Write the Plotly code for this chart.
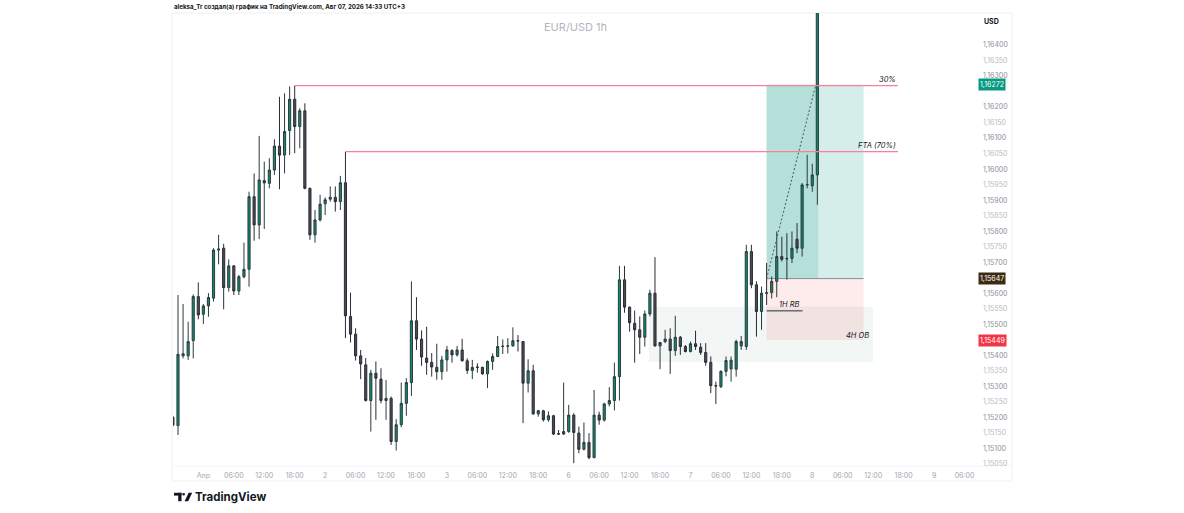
import plotly.graph_objects as go

# EUR/USD 1h, bar 0 = 31 Mar 19:00 (UTC+3); weekend bars skipped, so one bar per trading hour
opens = [1.15200, 1.15173, 1.15398, 1.15398, 1.15447, 1.15589, 1.15532, 1.15559, 1.15584, 1.15739,
         1.15745, 1.15618, 1.15688, 1.15607, 1.15653, 1.15677, 1.15911, 1.15820, 1.15955, 1.15954,
         1.15997, 1.16074, 1.16045, 1.16124, 1.16225, 1.16137, 1.16188, 1.15938, 1.15788, 1.15836,
         1.15888, 1.15903, 1.15909, 1.15895, 1.15956, 1.15525, 1.15468, 1.15398, 1.15369, 1.15254,
         1.15342, 1.15323, 1.15254, 1.15261, 1.15122, 1.15176, 1.15245, 1.15312, 1.15511, 1.15452,
         1.15391, 1.15377, 1.15361, 1.15347, 1.15385, 1.15415, 1.15401, 1.15417, 1.15382, 1.15351,
         1.15362, 1.15361, 1.15340, 1.15380, 1.15396, 1.15428, 1.15429, 1.15430, 1.15447, 1.15444,
         1.15310, 1.15350, 1.15211, 1.15221, 1.15192, 1.15205, 1.15147, 1.15146, 1.15154, 1.15207,
         1.15149, 1.15097, 1.15119, 1.15070, 1.15207, 1.15191, 1.15243, 1.15254, 1.15331, 1.15643,
         1.15555, 1.15503, 1.15482, 1.15458, 1.15533, 1.15600, 1.15430, 1.15444, 1.15452, 1.15415,
         1.15458, 1.15428, 1.15412, 1.15437, 1.15426, 1.15409, 1.15377, 1.15302, 1.15299, 1.15348,
         1.15356, 1.15355, 1.15430, 1.15428, 1.15734, 1.15627, 1.15541, 1.15601, 1.15602, 1.15638,
         1.15718, 1.15712, 1.15712, 1.15774, 1.15745, 1.15949, 1.15946, 1.15981]
highs = [1.15205, 1.15594, 1.15565, 1.15508, 1.15596, 1.15635, 1.15565, 1.15600, 1.15745, 1.15788,
         1.15759, 1.15709, 1.15690, 1.15659, 1.15763, 1.15927, 1.15986, 1.16107, 1.16024, 1.16035,
         1.16096, 1.16233, 1.16244, 1.16266, 1.16269, 1.16196, 1.16212, 1.15940, 1.15868, 1.15917,
         1.15909, 1.15944, 1.15944, 1.15978, 1.16056, 1.15602, 1.15487, 1.15417, 1.15391, 1.15353,
         1.15380, 1.15358, 1.15320, 1.15267, 1.15194, 1.15312, 1.15326, 1.15638, 1.15587, 1.15480,
         1.15492, 1.15407, 1.15437, 1.15398, 1.15430, 1.15419, 1.15430, 1.15453, 1.15390, 1.15385,
         1.15374, 1.15363, 1.15383, 1.15406, 1.15462, 1.15451, 1.15455, 1.15490, 1.15465, 1.15446,
         1.15387, 1.15369, 1.15224, 1.15224, 1.15219, 1.15208, 1.15159, 1.15312, 1.15240, 1.15213,
         1.15170, 1.15183, 1.15149, 1.15288, 1.15218, 1.15247, 1.15297, 1.15376, 1.15688, 1.15688,
         1.15557, 1.15544, 1.15525, 1.15544, 1.15611, 1.15716, 1.15441, 1.15482, 1.15487, 1.15527,
         1.15462, 1.15433, 1.15444, 1.15479, 1.15439, 1.15439, 1.15396, 1.15315, 1.15351, 1.15396,
         1.15396, 1.15450, 1.15462, 1.15756, 1.15756, 1.15638, 1.15621, 1.15697, 1.15654, 1.15799,
         1.15782, 1.15793, 1.15799, 1.15826, 1.15955, 1.16046, 1.16017, 1.16600]
lows = [1.15170, 1.15143, 1.15390, 1.15385, 1.15390, 1.15516, 1.15501, 1.15524, 1.15573, 1.15693,
        1.15548, 1.15605, 1.15594, 1.15594, 1.15648, 1.15621, 1.15769, 1.15774, 1.15807, 1.15938,
        1.15981, 1.15935, 1.15986, 1.16045, 1.16051, 1.16067, 1.15935, 1.15772, 1.15763, 1.15831,
        1.15852, 1.15895, 1.15863, 1.15868, 1.15455, 1.15441, 1.15383, 1.15323, 1.15251, 1.15154,
        1.15192, 1.15245, 1.15192, 1.15111, 1.15093, 1.15168, 1.15205, 1.15269, 1.15417, 1.15366,
        1.15337, 1.15331, 1.15321, 1.15321, 1.15347, 1.15376, 1.15396, 1.15380, 1.15340, 1.15323,
        1.15344, 1.15337, 1.15294, 1.15353, 1.15394, 1.15404, 1.15406, 1.15428, 1.15412, 1.15181,
        1.15280, 1.15208, 1.15202, 1.15186, 1.15186, 1.15143, 1.15143, 1.15143, 1.15150, 1.15052,
        1.15084, 1.15093, 1.15065, 1.15068, 1.15176, 1.15186, 1.15235, 1.15222, 1.15254, 1.15537,
        1.15476, 1.15376, 1.15404, 1.15428, 1.15525, 1.15428, 1.15355, 1.15439, 1.15340, 1.15398,
        1.15401, 1.15409, 1.15409, 1.15417, 1.15401, 1.15366, 1.15278, 1.15243, 1.15294, 1.15332,
        1.15315, 1.15331, 1.15417, 1.15417, 1.15616, 1.15460, 1.15482, 1.15562, 1.15583, 1.15587,
        1.15702, 1.15644, 1.15697, 1.15729, 1.15718, 1.15938, 1.15927, 1.15885]
closes = [1.15175, 1.15403, 1.15405, 1.15444, 1.15589, 1.15530, 1.15559, 1.15586, 1.15739, 1.15742,
          1.15618, 1.15688, 1.15607, 1.15653, 1.15677, 1.15911, 1.15820, 1.15965, 1.15963, 1.15997,
          1.16074, 1.16045, 1.16121, 1.16225, 1.16137, 1.16188, 1.15938, 1.15788, 1.15836, 1.15887,
          1.15901, 1.15909, 1.15895, 1.15956, 1.15527, 1.15468, 1.15398, 1.15372, 1.15254, 1.15342,
          1.15326, 1.15254, 1.15261, 1.15122, 1.15176, 1.15245, 1.15312, 1.15511, 1.15452, 1.15394,
          1.15377, 1.15362, 1.15347, 1.15385, 1.15417, 1.15401, 1.15417, 1.15382, 1.15351, 1.15361,
          1.15361, 1.15340, 1.15380, 1.15396, 1.15428, 1.15429, 1.15430, 1.15447, 1.15446, 1.15310,
          1.15350, 1.15211, 1.15221, 1.15192, 1.15205, 1.15146, 1.15146, 1.15154, 1.15207, 1.15151,
          1.15097, 1.15119, 1.15070, 1.15207, 1.15191, 1.15243, 1.15254, 1.15331, 1.15643, 1.15555,
          1.15505, 1.15482, 1.15458, 1.15533, 1.15600, 1.15430, 1.15441, 1.15452, 1.15415, 1.15458,
          1.15428, 1.15412, 1.15437, 1.15428, 1.15409, 1.15377, 1.15302, 1.15301, 1.15348, 1.15383,
          1.15384, 1.15444, 1.15444, 1.15734, 1.15627, 1.15541, 1.15600, 1.15600, 1.15638, 1.15718,
          1.15709, 1.15711, 1.15745, 1.15745, 1.15949, 1.15950, 1.15981, 1.16580]
bars = list(range(-1, len(opens) - 1))

# time scale labels (bar numbers of each 6h mark)
tick_bars = [5, 11, 17, 23, 29, 35, 41, 47, 53, 59, 65, 71, 77, 83, 89, 95, 101, 107, 113, 119,
             125, 131, 137, 143, 149, 155]
tick_labels = ["Апр", "06:00", "12:00", "18:00", "2", "06:00", "12:00", "18:00", "3", "06:00",
               "12:00", "18:00", "6", "06:00", "12:00", "18:00", "7", "06:00", "12:00", "18:00",
               "8", "06:00", "12:00", "18:00", "9", "06:00"]

# price scale (1,15450 / 1,15650 / 1,16250 sit under the badges)
price_ticks = [1.15050, 1.15100, 1.15150, 1.15200, 1.15250, 1.15300, 1.15350, 1.15400,
               1.15500, 1.15550, 1.15600, 1.15700, 1.15750, 1.15800, 1.15850, 1.15900,
               1.15950, 1.16000, 1.16050, 1.16100, 1.16150, 1.16200, 1.16300, 1.16350,
               1.16400]

# levels / drawings
level_30 = 1.16269
level_fta = 1.16056
level_1h_rb = 1.15543
ob_top, ob_bottom = 1.15556, 1.15378
tp_price, entry_price, sl_price = 1.16272, 1.15647, 1.15449
pos_start, pos_hit, pos_end = 116.0, 126.2, 135.1
ob_start, ob_end = 92.8, 137.0

# plot area in page pixels
PLOT_L, PLOT_R, PLOT_T, PLOT_B = 173, 975, 13, 466
W, H = 1184, 513


def px(x):
    return (x - PLOT_L) / (PLOT_R - PLOT_L)


def py(y):
    return (PLOT_B - y) / (PLOT_B - PLOT_T)


fig = go.Figure()

fig.add_trace(go.Candlestick(
    x=bars, open=opens, high=highs, low=lows, close=closes,
    increasing=dict(fillcolor='#0f8b76', line=dict(color='#2b3a38', width=1)),
    decreasing=dict(fillcolor='#4a4d56', line=dict(color='#2a2c32', width=1)),
    whiskerwidth=0, hoverinfo='skip', showlegend=False,
))

level_color = '#f7819b'
shapes = []
# 4H order block
shapes.append(dict(type='rect', x0=ob_start, x1=ob_end, y0=ob_bottom, y1=ob_top,
                   fillcolor='rgba(196,214,208,0.22)', line_width=0, layer='below'))
# long position tool
shapes.append(dict(type='rect', x0=pos_start, x1=pos_hit, y0=entry_price, y1=tp_price,
                   fillcolor='rgba(8,153,129,0.30)', line_width=0, layer='below'))
shapes.append(dict(type='rect', x0=pos_hit, x1=pos_end, y0=entry_price, y1=tp_price,
                   fillcolor='rgba(8,153,129,0.17)', line_width=0, layer='below'))
shapes.append(dict(type='rect', x0=pos_start, x1=pos_end, y0=sl_price, y1=entry_price,
                   fillcolor='rgba(242,54,69,0.10)', line_width=0, layer='below'))
shapes.append(dict(type='line', x0=pos_start, x1=pos_end, y0=entry_price, y1=entry_price,
                   line=dict(color='#8a8d95', width=1), layer='below'))
shapes.append(dict(type='line', x0=pos_start, x1=125.7, y0=entry_price, y1=tp_price,
                   line=dict(color='#50535a', width=1, dash='2px,2px')))
# horizontal levels
shapes.append(dict(type='line', x0=23.0, x1=141.9, y0=level_30, y1=level_30,
                   line=dict(color=level_color, width=1.3)))
shapes.append(dict(type='line', x0=33.05, x1=141.9, y0=level_fta, y1=level_fta,
                   line=dict(color=level_color, width=1.3)))
shapes.append(dict(type='line', x0=116.0, x1=123.1, y0=level_1h_rb, y1=level_1h_rb,
                   line=dict(color='#2a2e39', width=1)))
# pane border
shapes.append(dict(type='rect', xref='paper', yref='paper', x0=px(172), x1=px(1012),
                   y0=py(481), y1=py(13), line=dict(color='#eef0f3', width=1), layer='below'))
shapes.append(dict(type='line', xref='paper', yref='paper', x0=px(172), x1=px(1012),
                   y0=py(466), y1=py(466), line=dict(color='#f4f5f7', width=1), layer='below'))
# TradingView logo
logo = '#131722'
shapes.append(dict(type='rect', xref='paper', yref='paper', x0=px(174), x1=px(181.5),
                   y0=py(495.6), y1=py(492.8), fillcolor=logo, line_width=0))
shapes.append(dict(type='rect', xref='paper', yref='paper', x0=px(178.2), x1=px(181.5),
                   y0=py(501.2), y1=py(492.8), fillcolor=logo, line_width=0))
shapes.append(dict(type='circle', xref='paper', yref='paper', x0=px(182.3), x1=px(185.0),
                   y0=py(495.6), y1=py(492.9), fillcolor=logo, line_width=0))
shapes.append(dict(type='path', xref='paper', yref='paper',
                   path=f'M {px(188.6)} {py(492.8)} L {px(192.2)} {py(492.8)} '
                        f'L {px(188.2)} {py(501.2)} L {px(184.6)} {py(501.2)} Z',
                   fillcolor=logo, line_width=0))

ann_font = dict(family='Inter, Roboto, sans-serif', size=7.5, color='#131722')
annotations = [
    dict(x=141.9, y=level_30, text='<i>30%</i>', showarrow=False, xanchor='right',
         yanchor='bottom', font=ann_font),
    dict(x=141.9, y=level_fta, text='<i>FTA (70%)</i>', showarrow=False, xanchor='right',
         yanchor='bottom', font=ann_font),
    dict(x=120.6, y=level_1h_rb, text='<i>1H RB</i>', showarrow=False, xanchor='center',
         yanchor='bottom', font=ann_font),
    dict(x=136.6, y=1.15465, text='<i>4H OB</i>', showarrow=False, xanchor='right',
         yanchor='middle', font=ann_font),
]

# price scale badges
for price, bg in [(tp_price, '#089981'), (entry_price, '#3d2a10'), (sl_price, '#f23645')]:
    annotations.append(dict(xref='paper', x=px(978), y=price, yref='y', xanchor='left',
                            yanchor='middle', showarrow=False,
                            text=f'{price:.5f}'.replace('.', ','), bgcolor=bg, borderpad=1,
                            font=dict(family='Inter, sans-serif', size=7, color='white')))

annotations += [
    dict(xref='paper', yref='paper', x=px(172), y=py(7), xanchor='left', yanchor='middle',
         showarrow=False,
         text='<b>aleksa_Tr создал(а) график на TradingView.com, Авг 07, 2026 14:33 UTC+3</b>',
         font=dict(family='Inter, sans-serif', size=6.2, color='#131722')),
    dict(xref='paper', yref='paper', x=px(575), y=py(27), xanchor='center', yanchor='middle',
         showarrow=False, text='EUR/USD 1h',
         font=dict(family='Inter, sans-serif', size=11, color='#b2b5be')),
    dict(xref='paper', yref='paper', x=px(991), y=py(22), xanchor='center', yanchor='middle',
         showarrow=False, text='<b>USD</b>', bgcolor='white', borderpad=2,
         font=dict(family='Inter, sans-serif', size=7, color='#131722')),
    dict(xref='paper', yref='paper', x=px(193), y=py(497), xanchor='left', yanchor='middle',
         showarrow=False, text='<b>TradingView</b>',
         font=dict(family='Inter, sans-serif', size=11.5, color='#131722')),
]

price_text = []
for p in price_ticks:
    label = f'{p:.5f}'.replace('.', ',')
    major = round(p * 100000) % 100 == 0
    price_text.append(f'<span style="color:{"#8c8f98" if major else "#b8bbc3"}">{label}</span>')

fig.update_layout(
    width=W, height=H,
    margin=dict(l=PLOT_L, r=W - PLOT_R, t=PLOT_T, b=H - PLOT_B),
    paper_bgcolor='white', plot_bgcolor='white',
    boxgap=0.4,
    shapes=shapes, annotations=annotations,
    xaxis=dict(range=[-0.985, 157.07], rangeslider=dict(visible=False), showgrid=False,
               zeroline=False, showline=False, ticks='', tickvals=tick_bars,
               ticktext=tick_labels, ticklabelstandoff=4,
               tickfont=dict(family='Inter, sans-serif', size=7, color='#a3a6af')),
    yaxis=dict(range=[1.15043, 1.16503], side='right', showgrid=False, zeroline=False,
               showline=False, ticks='', tickvals=price_ticks, ticktext=price_text,
               ticklabelstandoff=7,
               tickfont=dict(family='Inter, sans-serif', size=7, color='#8c8f98')),
    hovermode=False,
)

# page margin off so the figure sits at the window's top-left corner
fig.write_html("out.html", config={'displayModeBar': False},
               post_script="document.body.style.margin='0';")
